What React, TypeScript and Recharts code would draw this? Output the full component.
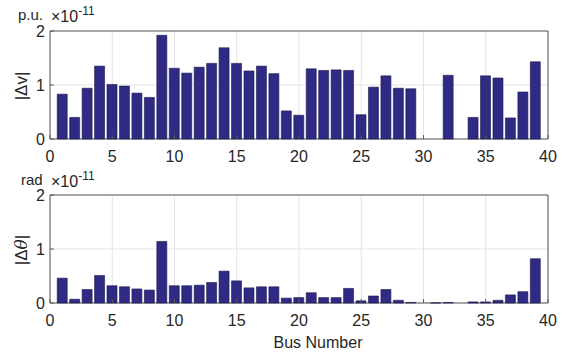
import React from "react";
import {
  BarChart,
  Bar,
  XAxis,
  YAxis,
  CartesianGrid,
  ReferenceArea,
} from "recharts";

// bus numbers 1..39
const buses = [
  1, 2, 3, 4, 5, 6, 7, 8, 9, 10, 11, 12, 13, 14, 15, 16, 17, 18, 19, 20,
  21, 22, 23, 24, 25, 26, 27, 28, 29, 30, 31, 32, 33, 34, 35, 36, 37, 38, 39,
];

// |dV| in 1e-11 p.u.
const dV = [
  0.83, 0.4, 0.94, 1.35, 1.01, 0.98, 0.85, 0.77, 1.92, 1.31, 1.22, 1.33, 1.4,
  1.69, 1.4, 1.26, 1.35, 1.21, 0.52, 0.44, 1.3, 1.27, 1.28, 1.27, 0.45, 0.96,
  1.17, 0.94, 0.93, 0, 0, 1.18, 0, 0.4, 1.17, 1.13, 0.39, 0.87, 1.43,
];

// |dTheta| in 1e-11 rad
const dTheta = [
  0.46, 0.07, 0.25, 0.51, 0.32, 0.3, 0.26, 0.24, 1.14, 0.32, 0.32, 0.33, 0.38,
  0.59, 0.41, 0.28, 0.3, 0.3, 0.09, 0.1, 0.19, 0.1, 0.1, 0.27, 0.04, 0.13,
  0.25, 0.05, 0.01, 0, 0.003, 0.01, 0, 0.02, 0.02, 0.05, 0.15, 0.21, 0.82,
];

const xTicks = [0, 5, 10, 15, 20, 25, 30, 35, 40];
const yTicks = [0, 1, 2];

const font = "'Liberation Sans', Arial, sans-serif";
const txt = "#262626";
const axisCol = "#5a5a5a";
const barFill = "#2f2a84";

const vData = buses.map((b, i) => ({ bus: b, value: dV[i] }));
const tData = buses.map((b, i) => ({ bus: b, value: dTheta[i] }));

function Panel({
  data,
  height,
  top,
}: {
  data: { bus: number; value: number }[];
  height: number;
  top: number;
}) {
  return (
    <BarChart
      width={566}
      height={height}
      data={data}
      margin={{ top, right: 18, bottom: 0, left: 0 }}
      style={{ fontFamily: font }}
    >
      <CartesianGrid stroke="#e3e3e3" />
      <XAxis
        dataKey="bus"
        type="number"
        domain={[0, 40]}
        ticks={xTicks}
        interval={0}
        height={height - top - 108}
        axisLine={false}
        tickLine={{ stroke: axisCol }}
        tickSize={-4}
        tickMargin={16}
        tick={{ fill: txt, fontSize: 16 }}
      />
      <XAxis
        xAxisId="top"
        orientation="top"
        type="number"
        domain={[0, 40]}
        ticks={xTicks}
        height={0}
        axisLine={false}
        tickLine={{ stroke: axisCol }}
        tickSize={-4}
        tick={false}
      />
      <YAxis
        type="number"
        domain={[0, 2]}
        ticks={yTicks}
        width={50}
        axisLine={false}
        tickLine={{ stroke: axisCol }}
        tickSize={-4}
        tickMargin={9}
        tick={{ fill: txt, fontSize: 16 }}
      />
      <YAxis
        yAxisId="right"
        orientation="right"
        type="number"
        domain={[0, 2]}
        ticks={yTicks}
        width={0}
        axisLine={false}
        tickLine={{ stroke: axisCol }}
        tickSize={-4}
        tick={false}
      />
      <Bar
        dataKey="value"
        fill={barFill}
        stroke="#1c1a4a"
        strokeWidth={0.6}
        barSize={10}
        isAnimationActive={false}
      />
      <ReferenceArea
        x1={0}
        x2={40}
        y1={0}
        y2={2}
        fill="none"
        fillOpacity={0}
        stroke={axisCol}
        strokeWidth={1}
        ifOverflow="visible"
      />
    </BarChart>
  );
}

const label: React.CSSProperties = {
  position: "absolute",
  fontFamily: font,
  color: txt,
  whiteSpace: "nowrap",
  lineHeight: 1,
};

const sup: React.CSSProperties = {
  fontSize: 12,
  verticalAlign: "top",
  position: "relative",
  top: -4,
};

export default function App() {
  return (
    <div
      style={{
        position: "absolute",
        left: 0,
        top: 0,
        width: 566,
        height: 354,
        background: "#fff",
      }}
    >
      <div style={{ position: "absolute", left: 0, top: 0 }}>
        <Panel data={vData} height={170} top={31} />
      </div>
      <div style={{ position: "absolute", left: 0, top: 170 }}>
        <Panel data={tData} height={184} top={25} />
      </div>

      <div style={{ ...label, left: 18, top: 7, fontSize: 15 }}>p.u.</div>
      <div style={{ ...label, left: 51, top: 9, fontSize: 16 }}>
        ×10<span style={sup}>-11</span>
      </div>
      <div style={{ ...label, left: 21, top: 172, fontSize: 15 }}>rad</div>
      <div style={{ ...label, left: 51, top: 174, fontSize: 16 }}>
        ×10<span style={sup}>-11</span>
      </div>

      <div
        style={{
          ...label,
          left: 21,
          top: 86,
          fontSize: 17,
          transform: "translate(-50%, -50%) rotate(-90deg)",
        }}
      >
        |Δv|
      </div>
      <div
        style={{
          ...label,
          left: 21,
          top: 250,
          fontSize: 17,
          transform: "translate(-50%, -50%) rotate(-90deg)",
        }}
      >
        |Δ<i style={{ fontFamily: "'DejaVu Serif', serif" }}>θ</i>|
      </div>

      <div
        style={{
          ...label,
          left: 318,
          top: 335,
          fontSize: 16,
          transform: "translateX(-50%)",
        }}
      >
        Bus Number
      </div>
    </div>
  );
}
